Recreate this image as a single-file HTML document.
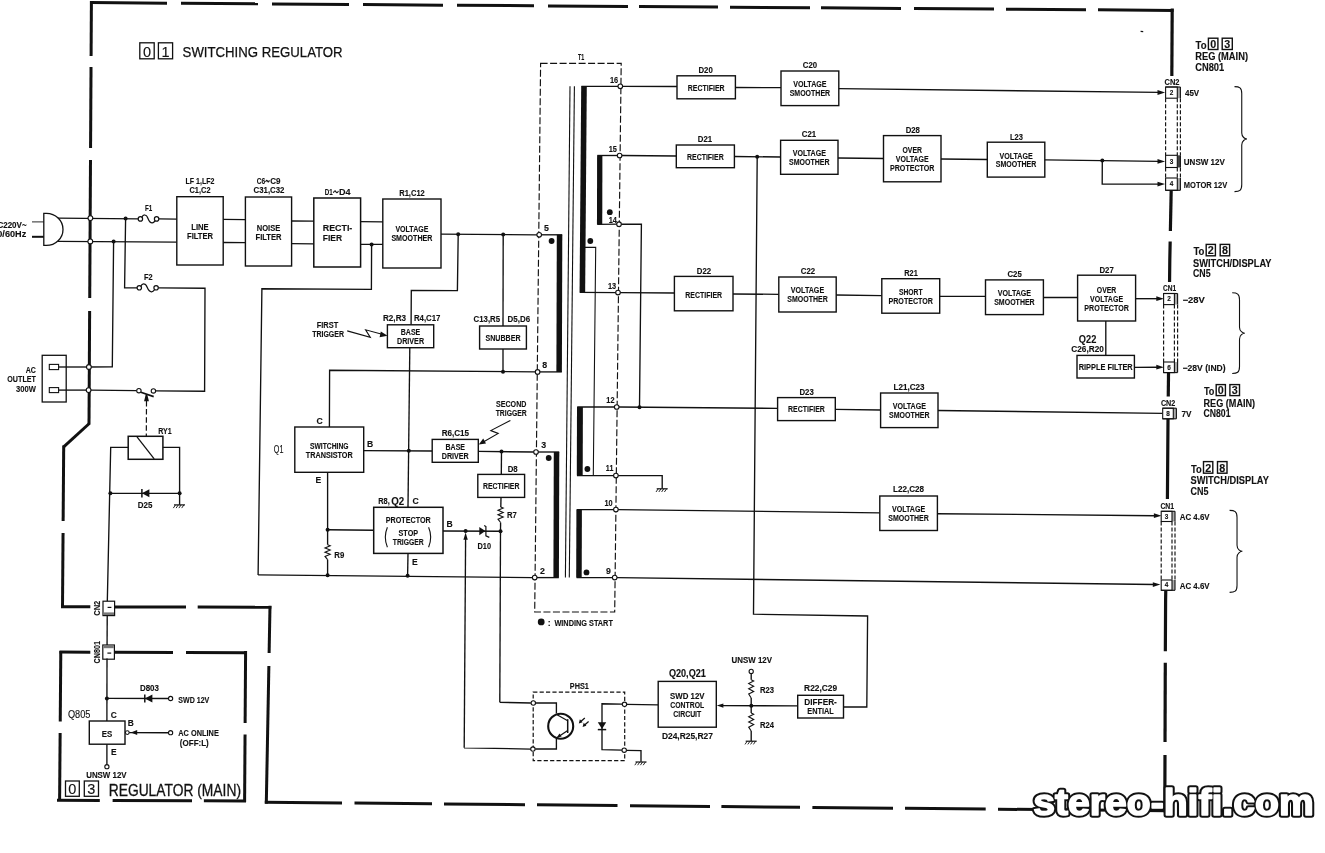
<!DOCTYPE html>
<html><head><meta charset="utf-8"><style>
html,body{margin:0;padding:0;background:#fff;}
svg{display:block;filter:grayscale(1);}
text{font-family:"Liberation Sans",sans-serif;fill:#111;stroke:#111;stroke-width:0.12px;}
</style></head><body>
<svg width="1325" height="853" viewBox="0 0 1325 853">
<rect x="0" y="0" width="1325" height="853" fill="#fff"/>
<line x1="90.5" y1="2.59" x2="167" y2="3.14" stroke="#111" stroke-width="3.0" stroke-linecap="butt"/>
<line x1="181" y1="3.24" x2="258" y2="3.8" stroke="#111" stroke-width="3.0" stroke-linecap="butt"/>
<line x1="272" y1="3.9" x2="349" y2="4.46" stroke="#111" stroke-width="3.0" stroke-linecap="butt"/>
<line x1="363" y1="4.56" x2="443" y2="5.13" stroke="#111" stroke-width="3.0" stroke-linecap="butt"/>
<line x1="457" y1="5.24" x2="534" y2="5.79" stroke="#111" stroke-width="3.0" stroke-linecap="butt"/>
<line x1="548" y1="5.89" x2="628" y2="6.47" stroke="#111" stroke-width="3.0" stroke-linecap="butt"/>
<line x1="639" y1="6.55" x2="718" y2="7.12" stroke="#111" stroke-width="3.0" stroke-linecap="butt"/>
<line x1="730" y1="7.21" x2="810" y2="7.79" stroke="#111" stroke-width="3.0" stroke-linecap="butt"/>
<line x1="821" y1="7.87" x2="901" y2="8.44" stroke="#111" stroke-width="3.0" stroke-linecap="butt"/>
<line x1="914" y1="8.54" x2="994" y2="9.11" stroke="#111" stroke-width="3.0" stroke-linecap="butt"/>
<line x1="1006" y1="9.2" x2="1086" y2="9.78" stroke="#111" stroke-width="3.0" stroke-linecap="butt"/>
<line x1="1098" y1="9.87" x2="1173.5" y2="10.41" stroke="#111" stroke-width="3.0" stroke-linecap="butt"/>
<polyline points="1172.2,8.5 1171.83,76" fill="none" stroke="#111" stroke-width="3.2" stroke-linecap="butt"/>
<polyline points="1171.2,190 1170.38,231" fill="none" stroke="#111" stroke-width="3.2" stroke-linecap="butt"/>
<polyline points="1170.17,241.5 1169.8,260 1169.55,282" fill="none" stroke="#111" stroke-width="3.2" stroke-linecap="butt"/>
<polyline points="1168.53,373 1168.26,396.5" fill="none" stroke="#111" stroke-width="3.2" stroke-linecap="butt"/>
<polyline points="1168.01,419 1168.0,420 1167.41,499" fill="none" stroke="#111" stroke-width="3.2" stroke-linecap="butt"/>
<polyline points="1165.76,591 1165.6,600 1165.34,651.3" fill="none" stroke="#111" stroke-width="3.2" stroke-linecap="butt"/>
<polyline points="1165.29,662.7 1165.03,742" fill="none" stroke="#111" stroke-width="3.2" stroke-linecap="butt"/>
<polyline points="1164.99,755 1164.8,812 1164.8,812.3" fill="none" stroke="#111" stroke-width="3.2" stroke-linecap="butt"/>
<line x1="264.8" y1="802.19" x2="342" y2="802.93" stroke="#111" stroke-width="3.0" stroke-linecap="butt"/>
<line x1="354.5" y1="803.05" x2="432" y2="803.79" stroke="#111" stroke-width="3.0" stroke-linecap="butt"/>
<line x1="444" y1="803.9" x2="525" y2="804.68" stroke="#111" stroke-width="3.0" stroke-linecap="butt"/>
<line x1="537" y1="804.79" x2="617.5" y2="805.56" stroke="#111" stroke-width="3.0" stroke-linecap="butt"/>
<line x1="630" y1="805.68" x2="710" y2="806.45" stroke="#111" stroke-width="3.0" stroke-linecap="butt"/>
<line x1="721.4" y1="806.56" x2="800" y2="807.31" stroke="#111" stroke-width="3.0" stroke-linecap="butt"/>
<line x1="812.4" y1="807.43" x2="893" y2="808.2" stroke="#111" stroke-width="3.0" stroke-linecap="butt"/>
<line x1="905" y1="808.31" x2="985.7" y2="809.08" stroke="#111" stroke-width="3.0" stroke-linecap="butt"/>
<line x1="998" y1="809.2" x2="1166.5" y2="810.81" stroke="#111" stroke-width="3.0" stroke-linecap="butt"/>
<line x1="91.4" y1="1" x2="91.09" y2="56" stroke="#111" stroke-width="3.0" stroke-linecap="butt"/>
<line x1="91.03" y1="67" x2="90.57" y2="148" stroke="#111" stroke-width="3.0" stroke-linecap="butt"/>
<line x1="90.5" y1="160" x2="89.72" y2="298" stroke="#111" stroke-width="3.0" stroke-linecap="butt"/>
<line x1="89.64" y1="311" x2="89.0" y2="424.5" stroke="#111" stroke-width="3.0" stroke-linecap="butt"/>
<line x1="89.3" y1="423.5" x2="63.7" y2="446.8" stroke="#111" stroke-width="3.0" />
<line x1="63.7" y1="445.5" x2="63.14" y2="521" stroke="#111" stroke-width="3.0" stroke-linecap="butt"/>
<line x1="63.05" y1="533" x2="62.5" y2="608" stroke="#111" stroke-width="3.0" stroke-linecap="butt"/>
<line x1="61" y1="606.8" x2="90.3" y2="606.86" stroke="#111" stroke-width="3.0" stroke-linecap="butt"/>
<line x1="114.6" y1="606.9" x2="186" y2="607.04" stroke="#111" stroke-width="3.0" stroke-linecap="butt"/>
<line x1="197.7" y1="607.06" x2="271.3" y2="607.2" stroke="#111" stroke-width="3.0" stroke-linecap="butt"/>
<line x1="270.0" y1="605.7" x2="269.12" y2="653" stroke="#111" stroke-width="3.0" stroke-linecap="butt"/>
<line x1="268.87" y1="666" x2="266.3" y2="803.6" stroke="#111" stroke-width="3.0" stroke-linecap="butt"/>
<line x1="59.5" y1="652.0" x2="90.3" y2="652.13" stroke="#111" stroke-width="3.0" stroke-linecap="butt"/>
<line x1="114.6" y1="652.24" x2="173" y2="652.48" stroke="#111" stroke-width="3.0" stroke-linecap="butt"/>
<line x1="186" y1="652.54" x2="247" y2="652.8" stroke="#111" stroke-width="3.0" stroke-linecap="butt"/>
<line x1="245.6" y1="651" x2="245.12" y2="723" stroke="#111" stroke-width="3.0" stroke-linecap="butt"/>
<line x1="245.05" y1="734.4" x2="244.6" y2="802" stroke="#111" stroke-width="3.0" stroke-linecap="butt"/>
<line x1="57" y1="800.3" x2="99.8" y2="800.46" stroke="#111" stroke-width="3.0" stroke-linecap="butt"/>
<line x1="112.6" y1="800.51" x2="192" y2="800.8" stroke="#111" stroke-width="3.0" stroke-linecap="butt"/>
<line x1="203.9" y1="800.84" x2="246" y2="801.0" stroke="#111" stroke-width="3.0" stroke-linecap="butt"/>
<line x1="60.8" y1="651" x2="60.24" y2="721.5" stroke="#111" stroke-width="3.0" stroke-linecap="butt"/>
<line x1="60.14" y1="733" x2="59.6" y2="801" stroke="#111" stroke-width="3.0" stroke-linecap="butt"/>
<rect x="139.8" y="42.8" width="14.4" height="16.0" fill="none" stroke="#111" stroke-width="1.3" />
<text x="147.0" y="56.6" font-size="14.5" font-weight="normal" text-anchor="middle" >0</text>
<rect x="158.4" y="42.8" width="14.2" height="16.0" fill="none" stroke="#111" stroke-width="1.3" />
<text x="165.5" y="56.6" font-size="14.5" font-weight="normal" text-anchor="middle" >1</text>
<text x="182.6" y="57.3" font-size="14" font-weight="normal" text-anchor="start" textLength="160" lengthAdjust="spacingAndGlyphs" style="stroke:#111;stroke-width:0.25">SWITCHING REGULATOR</text>
<rect x="65.5" y="781" width="13.8" height="15.3" fill="none" stroke="#111" stroke-width="1.3" />
<text x="72.4" y="794.1" font-size="14.5" font-weight="normal" text-anchor="middle" >0</text>
<rect x="84.3" y="781" width="14.2" height="15.3" fill="none" stroke="#111" stroke-width="1.3" />
<text x="91.4" y="794.1" font-size="14.5" font-weight="normal" text-anchor="middle" >3</text>
<text x="108.7" y="795.5" font-size="16.2" font-weight="normal" text-anchor="start" textLength="132.3" lengthAdjust="spacingAndGlyphs" style="stroke:#111;stroke-width:0.3">REGULATOR (MAIN)</text>
<line x1="32" y1="221.9" x2="44" y2="221.9" stroke="#111" stroke-width="0.9" />
<line x1="32" y1="236.8" x2="44" y2="236.8" stroke="#111" stroke-width="2.0" />
<path d="M43.8,213.4 L46.4,213.4 A16.6,16 0 0 1 46.4,245.4 L43.8,245.4 Z" fill="#fff" stroke="#111" stroke-width="1.3"/>
<text x="26.6" y="227.6" font-size="9" font-weight="bold" text-anchor="end" textLength="35" lengthAdjust="spacingAndGlyphs" >AC220V~</text>
<text x="26.2" y="237.2" font-size="9" font-weight="bold" text-anchor="end" textLength="34" lengthAdjust="spacingAndGlyphs" >50/60Hz</text>
<line x1="57.8" y1="218.1" x2="138.2" y2="218.9" stroke="#111" stroke-width="1.35" />
<line x1="57.8" y1="241.4" x2="176.8" y2="242.2" stroke="#111" stroke-width="1.35" />
<line x1="158.8" y1="218.9" x2="176.8" y2="219.2" stroke="#111" stroke-width="1.35" />
<circle cx="140.4" cy="218.9" r="2.2" fill="#fff" stroke="#111" stroke-width="1.2"/>
<circle cx="156.6" cy="218.9" r="2.2" fill="#fff" stroke="#111" stroke-width="1.2"/>
<path d="M141.8,217.3 C142.8,215.3 144.0,214.9 144.8,215.0 C146.6,215.1 147.4,216.9 148.1,218.7 C149.0,220.9 150.5,223.1 152.3,222.9 C153.5,222.8 154.3,221.9 155.0,220.9" fill="none" stroke="#111" stroke-width="1.25"/>
<text x="148.5" y="210.8" font-size="8.6" font-weight="bold" text-anchor="middle" textLength="7.2" lengthAdjust="spacingAndGlyphs" >F1</text>
<circle cx="125.6" cy="218.4" r="2.0" fill="#111"/>
<circle cx="113.6" cy="241.6" r="2.0" fill="#111"/>
<polyline points="125.6,218.4 124.6,287.8 137,287.8" fill="none" stroke="#111" stroke-width="1.35" stroke-linejoin="miter" />
<circle cx="139.3" cy="287.8" r="2.2" fill="#fff" stroke="#111" stroke-width="1.2"/>
<circle cx="156.1" cy="287.8" r="2.2" fill="#fff" stroke="#111" stroke-width="1.2"/>
<path d="M140.75,286.2 C141.79,284.2 143.03,283.8 143.86,283.9 C145.73,284.0 146.56,285.8 147.29,287.6 C148.22,289.8 149.77,292.0 151.64,291.8 C152.89,291.7 153.71,290.8 154.44,289.8" fill="none" stroke="#111" stroke-width="1.25"/>
<text x="148.2" y="280.3" font-size="8.6" font-weight="bold" text-anchor="middle" textLength="8.6" lengthAdjust="spacingAndGlyphs" >F2</text>
<polyline points="158.4,287.9 205,288.2 204.6,391.2 155.7,390.9" fill="none" stroke="#111" stroke-width="1.35" stroke-linejoin="miter" />
<polyline points="113.6,241.6 112.3,366.9 89,367" fill="none" stroke="#111" stroke-width="1.35" stroke-linejoin="miter" />
<circle cx="90.4" cy="218.1" r="2.4" fill="#fff" stroke="#111" stroke-width="1.1"/>
<circle cx="90.3" cy="241.4" r="2.4" fill="#fff" stroke="#111" stroke-width="1.1"/>
<rect x="42.2" y="355.3" width="24.0" height="46.7" fill="#fff" stroke="#111" stroke-width="1.3" />
<rect x="49.3" y="364.4" width="9.3" height="5.2" fill="#fff" stroke="#111" stroke-width="1.1" />
<rect x="49.3" y="387.6" width="9.3" height="5.0" fill="#fff" stroke="#111" stroke-width="1.1" />
<line x1="58.6" y1="367" x2="89" y2="367" stroke="#111" stroke-width="1.35" />
<line x1="58.6" y1="390.1" x2="89" y2="390.1" stroke="#111" stroke-width="1.35" />
<circle cx="88.9" cy="367" r="2.4" fill="#fff" stroke="#111" stroke-width="1.1"/>
<circle cx="88.6" cy="390.1" r="2.4" fill="#fff" stroke="#111" stroke-width="1.1"/>
<text x="35.9" y="373" font-size="9.6" font-weight="bold" text-anchor="end" textLength="10.2" lengthAdjust="spacingAndGlyphs" >AC</text>
<text x="35.9" y="382" font-size="9.6" font-weight="bold" text-anchor="end" textLength="28.6" lengthAdjust="spacingAndGlyphs" >OUTLET</text>
<text x="35.9" y="391.6" font-size="9.6" font-weight="bold" text-anchor="end" textLength="19.8" lengthAdjust="spacingAndGlyphs" >300W</text>
<line x1="91" y1="390.2" x2="136.6" y2="390.7" stroke="#111" stroke-width="1.35" />
<circle cx="138.9" cy="390.7" r="2.2" fill="#fff" stroke="#111" stroke-width="1.1"/>
<circle cx="153.4" cy="390.9" r="2.2" fill="#fff" stroke="#111" stroke-width="1.1"/>
<line x1="140.9" y1="392.2" x2="153.7" y2="396.6" stroke="#111" stroke-width="1.7" />
<path d="M145.7,394.4 L147.3,394.4 L148.9,401.2 L144.1,401.2 Z" fill="#111"/>
<line x1="146.5" y1="401" x2="146.3" y2="436" stroke="#111" stroke-width="1.2" stroke-dasharray="5.5 2.6"/>
<rect x="128.2" y="436.3" width="34.7" height="23.0" fill="#fff" stroke="#111" stroke-width="1.5" />
<line x1="137" y1="436.8" x2="154.2" y2="458.8" stroke="#111" stroke-width="1.3" />
<text x="165" y="434.4" font-size="9" font-weight="bold" text-anchor="middle" textLength="13.5" lengthAdjust="spacingAndGlyphs" >RY1</text>
<polyline points="128.2,447.3 110.7,447.3 107.3,601.5" fill="none" stroke="#111" stroke-width="1.35" stroke-linejoin="miter" />
<polyline points="162.9,447.3 179.6,447.3 179.6,504.8" fill="none" stroke="#111" stroke-width="1.35" stroke-linejoin="miter" />
<circle cx="110.4" cy="493.3" r="2.0" fill="#111"/>
<circle cx="179.6" cy="493.3" r="2.0" fill="#111"/>
<line x1="110.4" y1="493.3" x2="179.6" y2="493.3" stroke="#111" stroke-width="1.35" />
<path d="M141.9,493.3 L149.4,489.3 L149.4,497.3 Z" fill="#111"/>
<line x1="141.9" y1="489.1" x2="141.9" y2="497.5" stroke="#111" stroke-width="1.5" />
<text x="145.1" y="508.3" font-size="9" font-weight="bold" text-anchor="middle" textLength="14.6" lengthAdjust="spacingAndGlyphs" >D25</text>
<line x1="174.0" y1="504.9" x2="185.0" y2="504.9" stroke="#111" stroke-width="1.2" />
<line x1="175.5" y1="504.9" x2="173.3" y2="508.09999999999997" stroke="#111" stroke-width="0.9" />
<line x1="178.3" y1="504.9" x2="176.10000000000002" y2="508.09999999999997" stroke="#111" stroke-width="0.9" />
<line x1="181.1" y1="504.9" x2="178.9" y2="508.09999999999997" stroke="#111" stroke-width="0.9" />
<line x1="183.9" y1="504.9" x2="181.70000000000002" y2="508.09999999999997" stroke="#111" stroke-width="0.9" />
<rect x="176.8" y="196.7" width="46.4" height="68.3" fill="#fff" stroke="#111" stroke-width="1.4" />
<text x="200.0" y="230.0" font-size="9" font-weight="bold" text-anchor="middle" textLength="17.5" lengthAdjust="spacingAndGlyphs" >LINE</text>
<text x="200.0" y="239.2" font-size="9" font-weight="bold" text-anchor="middle" textLength="26" lengthAdjust="spacingAndGlyphs" >FILTER</text>
<rect x="245.4" y="197" width="46.2" height="69" fill="#fff" stroke="#111" stroke-width="1.4" />
<text x="268.5" y="230.7" font-size="9" font-weight="bold" text-anchor="middle" textLength="23.5" lengthAdjust="spacingAndGlyphs" >NOISE</text>
<text x="268.5" y="239.8" font-size="9" font-weight="bold" text-anchor="middle" textLength="26" lengthAdjust="spacingAndGlyphs" >FILTER</text>
<rect x="313.8" y="198" width="46.8" height="69" fill="#fff" stroke="#111" stroke-width="1.5" />
<text x="322.8" y="230.7" font-size="9" font-weight="bold" text-anchor="start" textLength="29.5" lengthAdjust="spacingAndGlyphs" >RECTI-</text>
<text x="322.8" y="240.6" font-size="9" font-weight="bold" text-anchor="start" textLength="19.2" lengthAdjust="spacingAndGlyphs" >FIER</text>
<rect x="382.8" y="199" width="58.2" height="69" fill="#fff" stroke="#111" stroke-width="1.4" />
<text x="411.9" y="232.3" font-size="9" font-weight="bold" text-anchor="middle" textLength="33" lengthAdjust="spacingAndGlyphs" >VOLTAGE</text>
<text x="411.9" y="241.3" font-size="9" font-weight="bold" text-anchor="middle" textLength="41" lengthAdjust="spacingAndGlyphs" >SMOOTHER</text>
<text x="200" y="184.3" font-size="9" font-weight="bold" text-anchor="middle" textLength="29" lengthAdjust="spacingAndGlyphs" >LF 1,LF2</text>
<text x="200" y="193" font-size="9" font-weight="bold" text-anchor="middle" textLength="21" lengthAdjust="spacingAndGlyphs" >C1,C2</text>
<text x="256.8" y="184.3" font-size="9" font-weight="bold" text-anchor="start" textLength="8.4" lengthAdjust="spacingAndGlyphs" >C6</text>
<path d="M265.6,182.0 C266.40000000000003,179.79999999999998 266.9,179.79999999999998 267.5,181.1 S268.59999999999997,182.4 269.4,180.2" fill="none" stroke="#111" stroke-width="1.1"/>
<text x="270.2" y="184.3" font-size="9" font-weight="bold" text-anchor="start" textLength="10.3" lengthAdjust="spacingAndGlyphs" >C9</text>
<text x="269" y="193.3" font-size="9" font-weight="bold" text-anchor="middle" textLength="31" lengthAdjust="spacingAndGlyphs" >C31,C32</text>
<text x="324.8" y="195" font-size="9" font-weight="bold" text-anchor="start" textLength="8" lengthAdjust="spacingAndGlyphs" >D1</text>
<path d="M333.4,192.70000000000002 C334.2,190.5 335.29999999999995,190.5 335.9,191.8 S337.59999999999997,193.10000000000002 338.4,190.9" fill="none" stroke="#111" stroke-width="1.1"/>
<text x="339" y="195" font-size="9" font-weight="bold" text-anchor="start" textLength="11.6" lengthAdjust="spacingAndGlyphs" >D4</text>
<text x="412" y="195.5" font-size="9" font-weight="bold" text-anchor="middle" textLength="25.5" lengthAdjust="spacingAndGlyphs" >R1,C12</text>
<line x1="223.2" y1="219.4" x2="245.4" y2="219.6" stroke="#111" stroke-width="1.35" />
<line x1="223.2" y1="242.5" x2="245.4" y2="242.7" stroke="#111" stroke-width="1.35" />
<line x1="291.6" y1="221" x2="313.8" y2="221.2" stroke="#111" stroke-width="1.35" />
<line x1="291.6" y1="243.6" x2="313.8" y2="243.8" stroke="#111" stroke-width="1.35" />
<line x1="360.6" y1="221.6" x2="382.8" y2="221.8" stroke="#111" stroke-width="1.35" />
<line x1="360.6" y1="244.3" x2="382.8" y2="244.4" stroke="#111" stroke-width="1.35" />
<circle cx="371.6" cy="244.4" r="2.0" fill="#111"/>
<line x1="441" y1="234.1" x2="537" y2="234.8" stroke="#111" stroke-width="1.35" />
<circle cx="458.2" cy="234.2" r="2.0" fill="#111"/>
<circle cx="503.2" cy="234.5" r="2.0" fill="#111"/>
<polyline points="371.6,244.4 371.4,289.4 261.9,288.8 258.1,575" fill="none" stroke="#111" stroke-width="1.35" stroke-linejoin="miter" />
<polyline points="458.2,234.2 457.4,290.6 411.3,290.4 411.1,324.8" fill="none" stroke="#111" stroke-width="1.35" stroke-linejoin="miter" />
<rect x="387.4" y="324.8" width="46.3" height="22.9" fill="#fff" stroke="#111" stroke-width="1.4" />
<text x="410.55" y="335.3" font-size="9" font-weight="bold" text-anchor="middle" textLength="19.5" lengthAdjust="spacingAndGlyphs" >BASE</text>
<text x="410.55" y="344.3" font-size="9" font-weight="bold" text-anchor="middle" textLength="27" lengthAdjust="spacingAndGlyphs" >DRIVER</text>
<text x="394.5" y="321.2" font-size="8.6" font-weight="bold" text-anchor="middle" textLength="23" lengthAdjust="spacingAndGlyphs" >R2,R3</text>
<text x="427.2" y="321.2" font-size="8.6" font-weight="bold" text-anchor="middle" textLength="26.5" lengthAdjust="spacingAndGlyphs" >R4,C17</text>
<text x="327.5" y="327.6" font-size="8.6" font-weight="bold" text-anchor="middle" textLength="21.5" lengthAdjust="spacingAndGlyphs" >FIRST</text>
<text x="328.1" y="336.7" font-size="8.6" font-weight="bold" text-anchor="middle" textLength="31.8" lengthAdjust="spacingAndGlyphs" >TRIGGER</text>
<polyline points="347.2,330.9 370.3,337.4 365.6,329.8 382,334.2" fill="none" stroke="#111" stroke-width="1.1" stroke-linejoin="miter" />
<path d="M387.6,335.8 L380.8,331.6 L379.6,337.2 Z" fill="#111"/>
<line x1="409.8" y1="347.7" x2="408" y2="507.3" stroke="#111" stroke-width="1.35" />
<circle cx="408.8" cy="450.8" r="2.0" fill="#111"/>
<rect x="479.6" y="326" width="46.8" height="23" fill="#fff" stroke="#111" stroke-width="1.4" />
<text x="503.0" y="341.0" font-size="9" font-weight="bold" text-anchor="middle" textLength="35" lengthAdjust="spacingAndGlyphs" >SNUBBER</text>
<text x="486.8" y="321.6" font-size="8.6" font-weight="bold" text-anchor="middle" textLength="26.5" lengthAdjust="spacingAndGlyphs" >C13,R5</text>
<text x="518.8" y="321.6" font-size="8.6" font-weight="bold" text-anchor="middle" textLength="22.5" lengthAdjust="spacingAndGlyphs" >D5,D6</text>
<line x1="503.2" y1="234.5" x2="503" y2="326" stroke="#111" stroke-width="1.35" />
<line x1="503" y1="349" x2="503" y2="371.7" stroke="#111" stroke-width="1.35" />
<circle cx="503" cy="371.7" r="2.0" fill="#111"/>
<polyline points="329.4,427 329.6,370.2 535.3,371.9" fill="none" stroke="#111" stroke-width="1.35" stroke-linejoin="miter" />
<rect x="294.8" y="427" width="68.9" height="45.3" fill="#fff" stroke="#111" stroke-width="1.4" />
<text x="329.25" y="448.9" font-size="9" font-weight="bold" text-anchor="middle" textLength="38.5" lengthAdjust="spacingAndGlyphs" >SWITCHING</text>
<text x="329.25" y="457.8" font-size="9" font-weight="bold" text-anchor="middle" textLength="47" lengthAdjust="spacingAndGlyphs" >TRANSISTOR</text>
<text x="319.7" y="424" font-size="8.6" font-weight="bold" text-anchor="middle" >C</text>
<text x="278.6" y="452.8" font-size="10.4" font-weight="normal" text-anchor="middle" textLength="9.6" lengthAdjust="spacingAndGlyphs" >Q1</text>
<text x="370.2" y="446.9" font-size="8.6" font-weight="bold" text-anchor="middle" >B</text>
<text x="318.4" y="483.2" font-size="8.6" font-weight="bold" text-anchor="middle" >E</text>
<line x1="363.7" y1="450.6" x2="432.2" y2="451" stroke="#111" stroke-width="1.35" />
<rect x="432.2" y="439.4" width="46.1" height="22.9" fill="#fff" stroke="#111" stroke-width="1.4" />
<text x="455.25" y="449.9" font-size="9" font-weight="bold" text-anchor="middle" textLength="19.5" lengthAdjust="spacingAndGlyphs" >BASE</text>
<text x="455.25" y="459.2" font-size="9" font-weight="bold" text-anchor="middle" textLength="27" lengthAdjust="spacingAndGlyphs" >DRIVER</text>
<text x="455.4" y="435.7" font-size="8.6" font-weight="bold" text-anchor="middle" textLength="27.4" lengthAdjust="spacingAndGlyphs" >R6,C15</text>
<text x="511.2" y="406.8" font-size="8.6" font-weight="bold" text-anchor="middle" textLength="30.4" lengthAdjust="spacingAndGlyphs" >SECOND</text>
<text x="511.2" y="415.8" font-size="8.6" font-weight="bold" text-anchor="middle" textLength="31" lengthAdjust="spacingAndGlyphs" >TRIGGER</text>
<polyline points="510.4,420.4 490.8,430.6 498.2,433.4 482,442.8" fill="none" stroke="#111" stroke-width="1.1" stroke-linejoin="miter" />
<path d="M478.8,444.6 L483.2,438.6 L486,443.6 Z" fill="#111"/>
<line x1="478.3" y1="451.4" x2="533.8" y2="452" stroke="#111" stroke-width="1.35" />
<circle cx="501.5" cy="451.6" r="2.0" fill="#111"/>
<line x1="501.5" y1="451.6" x2="501.3" y2="474.4" stroke="#111" stroke-width="1.35" />
<rect x="477.8" y="474.4" width="46.8" height="23.0" fill="#fff" stroke="#111" stroke-width="1.4" />
<text x="501.2" y="489.4" font-size="9" font-weight="bold" text-anchor="middle" textLength="36.5" lengthAdjust="spacingAndGlyphs" >RECTIFIER</text>
<text x="512.7" y="472.3" font-size="8.6" font-weight="bold" text-anchor="middle" textLength="10" lengthAdjust="spacingAndGlyphs" >D8</text>
<line x1="501" y1="497.4" x2="500.8" y2="507" stroke="#111" stroke-width="1.35" />
<polyline points="500.6,507 503.2,508.11 498.0,510.32 503.2,512.54 498.0,514.75 503.2,516.96 498.0,519.18 500.6,522.5" fill="none" stroke="#111" stroke-width="1.1" stroke-linejoin="miter" />
<text x="511.8" y="517.6" font-size="8.6" font-weight="bold" text-anchor="middle" textLength="9.8" lengthAdjust="spacingAndGlyphs" >R7</text>
<line x1="500.6" y1="522.5" x2="500.5" y2="531.2" stroke="#111" stroke-width="1.35" />
<circle cx="500.5" cy="531.2" r="2.0" fill="#111"/>
<line x1="500.5" y1="531.2" x2="499.8" y2="702.3" stroke="#111" stroke-width="1.35" />
<line x1="327.6" y1="472.3" x2="327.6" y2="544.7" stroke="#111" stroke-width="1.35" />
<polyline points="327.6,544.7 330.2,545.76 325.0,547.89 330.2,550.02 325.0,552.15 330.2,554.28 325.0,556.41 327.6,559.6" fill="none" stroke="#111" stroke-width="1.1" stroke-linejoin="miter" />
<line x1="327.6" y1="559.6" x2="327.6" y2="575.3" stroke="#111" stroke-width="1.35" />
<circle cx="327.6" cy="529.7" r="2.0" fill="#111"/>
<circle cx="327.6" cy="575.3" r="2.0" fill="#111"/>
<text x="339.3" y="558.4" font-size="8.6" font-weight="bold" text-anchor="middle" textLength="10" lengthAdjust="spacingAndGlyphs" >R9</text>
<line x1="327.6" y1="529.7" x2="373.7" y2="530.2" stroke="#111" stroke-width="1.35" />
<rect x="373.7" y="507.3" width="69.3" height="46.1" fill="#fff" stroke="#111" stroke-width="1.5" />
<text x="408.3" y="522.8" font-size="9" font-weight="bold" text-anchor="middle" textLength="45" lengthAdjust="spacingAndGlyphs" >PROTECTOR</text>
<text x="408.3" y="536" font-size="9" font-weight="bold" text-anchor="middle" textLength="19.5" lengthAdjust="spacingAndGlyphs" >STOP</text>
<text x="408.3" y="545.2" font-size="9" font-weight="bold" text-anchor="middle" textLength="31" lengthAdjust="spacingAndGlyphs" >TRIGGER</text>
<path d="M387.4,527.3 Q383.2,537.2 387.4,547.2" fill="none" stroke="#111" stroke-width="1.1"/>
<path d="M428.6,527.3 Q432.8,537.2 428.6,547.2" fill="none" stroke="#111" stroke-width="1.1"/>
<text x="378.2" y="504.3" font-size="8.6" font-weight="bold" text-anchor="start" textLength="11.5" lengthAdjust="spacingAndGlyphs" >R8,</text>
<text x="391.2" y="504.6" font-size="11" font-weight="bold" text-anchor="start" textLength="13" lengthAdjust="spacingAndGlyphs" >Q2</text>
<text x="415.6" y="504.2" font-size="8.6" font-weight="bold" text-anchor="middle" >C</text>
<text x="414.8" y="564.6" font-size="8.6" font-weight="bold" text-anchor="middle" >E</text>
<text x="449.6" y="527.1" font-size="8.6" font-weight="bold" text-anchor="middle" >B</text>
<line x1="408" y1="553.4" x2="407.6" y2="575.8" stroke="#111" stroke-width="1.35" />
<circle cx="407.6" cy="575.8" r="2.0" fill="#111"/>
<line x1="258.1" y1="574.8" x2="532.5" y2="577.6" stroke="#111" stroke-width="1.35" />
<line x1="443" y1="531" x2="500.5" y2="531.2" stroke="#111" stroke-width="1.35" />
<circle cx="465.6" cy="531" r="2.0" fill="#111"/>
<line x1="465.6" y1="539" x2="464.2" y2="747.8" stroke="#111" stroke-width="1.35" />
<path d="M465.6,532.4 L463.40000000000003,539.8 L467.8,539.8 Z" fill="#111"/>
<path d="M485.4,531.1 L479.3,527.1 L479.3,535.3 Z" fill="#111"/>
<path d="M484.2,525.4 L485.9,526.6 L485.9,535.8 L489.3,537.4" fill="none" stroke="#111" stroke-width="1.2"/>
<text x="484.3" y="548.7" font-size="8.6" font-weight="bold" text-anchor="middle" textLength="13.5" lengthAdjust="spacingAndGlyphs" >D10</text>
<polygon points="540.6,63.4 621.2,63.4 614.7,612 534.7,612" fill="none" stroke="#111" stroke-width="1.15" stroke-dasharray="7 2.5"/>
<text x="581.2" y="59.8" font-size="8.8" font-weight="bold" text-anchor="middle" textLength="6.2" lengthAdjust="spacingAndGlyphs" >T1</text>
<line x1="570" y1="86.3" x2="565.4" y2="577.6" stroke="#111" stroke-width="1.1" />
<line x1="574.4" y1="86.3" x2="569.3" y2="577.6" stroke="#111" stroke-width="1.1" />
<line x1="539.2" y1="234.8" x2="562.2" y2="234.8" stroke="#111" stroke-width="1.35" />
<path d="M556.8,234.8 L562.3,234.8 L561.89,371.9 L556.39,371.9 Z" fill="#111"/>
<line x1="561.8" y1="371.9" x2="537.6" y2="371.9" stroke="#111" stroke-width="1.35" />
<circle cx="551.6" cy="241" r="2.9" fill="#111"/>
<line x1="536" y1="452" x2="559.2" y2="452" stroke="#111" stroke-width="1.35" />
<path d="M553.8,452 L559.3,452 L558.92,577.6 L553.42,577.6 Z" fill="#111"/>
<line x1="558.8" y1="577.6" x2="534.7" y2="577.6" stroke="#111" stroke-width="1.35" />
<circle cx="548.7" cy="458" r="2.9" fill="#111"/>
<line x1="581.4" y1="86.3" x2="620.3" y2="86.3" stroke="#111" stroke-width="1.35" />
<path d="M581.2,86.3 L586.8,86.3 L585.15,292.4 L579.55,292.4 Z" fill="#111"/>
<line x1="579.8" y1="292.4" x2="618" y2="292.6" stroke="#111" stroke-width="1.35" />
<circle cx="590.3" cy="241" r="2.9" fill="#111"/>
<polyline points="585,247.4 595.7,247.4 593.3,475.6" fill="none" stroke="#111" stroke-width="1.1" stroke-linejoin="miter" />
<line x1="597.3" y1="155.5" x2="619.6" y2="155.5" stroke="#111" stroke-width="1.35" />
<path d="M597.1,155.5 L602.4,155.5 L602.26,224.6 L596.96,224.6 Z" fill="#111"/>
<line x1="597.3" y1="224.4" x2="619" y2="224.2" stroke="#111" stroke-width="1.35" />
<circle cx="609.8" cy="212.2" r="2.9" fill="#111"/>
<line x1="577.2" y1="407" x2="616.7" y2="407" stroke="#111" stroke-width="1.35" />
<path d="M577,407 L582.9,407 L582.69,475.6 L576.79,475.6 Z" fill="#111"/>
<line x1="577" y1="475.6" x2="615.9" y2="475.6" stroke="#111" stroke-width="1.35" />
<circle cx="587.4" cy="469" r="2.9" fill="#111"/>
<line x1="576.8" y1="509.6" x2="615.9" y2="509.6" stroke="#111" stroke-width="1.35" />
<path d="M576.4,509.6 L581.9,509.6 L581.7,577.6 L576.2,577.6 Z" fill="#111"/>
<line x1="576.6" y1="577.6" x2="614.7" y2="577.6" stroke="#111" stroke-width="1.35" />
<circle cx="586.5" cy="572.4" r="2.9" fill="#111"/>
<circle cx="539.2" cy="234.8" r="2.3" fill="#fff" stroke="#111" stroke-width="1.1"/>
<circle cx="537.6" cy="371.9" r="2.3" fill="#fff" stroke="#111" stroke-width="1.1"/>
<circle cx="536" cy="452" r="2.3" fill="#fff" stroke="#111" stroke-width="1.1"/>
<circle cx="534.7" cy="577.6" r="2.3" fill="#fff" stroke="#111" stroke-width="1.1"/>
<circle cx="620.3" cy="86.3" r="2.3" fill="#fff" stroke="#111" stroke-width="1.1"/>
<circle cx="619.6" cy="155.5" r="2.3" fill="#fff" stroke="#111" stroke-width="1.1"/>
<circle cx="619" cy="224.2" r="2.3" fill="#fff" stroke="#111" stroke-width="1.1"/>
<circle cx="618" cy="292.6" r="2.3" fill="#fff" stroke="#111" stroke-width="1.1"/>
<circle cx="616.7" cy="407" r="2.3" fill="#fff" stroke="#111" stroke-width="1.1"/>
<circle cx="615.9" cy="475.6" r="2.3" fill="#fff" stroke="#111" stroke-width="1.1"/>
<circle cx="615.9" cy="509.6" r="2.3" fill="#fff" stroke="#111" stroke-width="1.1"/>
<circle cx="614.7" cy="577.6" r="2.3" fill="#fff" stroke="#111" stroke-width="1.1"/>
<text x="546.5" y="231" font-size="8.8" font-weight="bold" text-anchor="middle" >5</text>
<text x="544.6" y="368.3" font-size="8.8" font-weight="bold" text-anchor="middle" >8</text>
<text x="543.6" y="448.2" font-size="8.8" font-weight="bold" text-anchor="middle" >3</text>
<text x="542.4" y="574.2" font-size="8.8" font-weight="bold" text-anchor="middle" >2</text>
<text x="614" y="82.8" font-size="8.8" font-weight="bold" text-anchor="middle" textLength="8.2" lengthAdjust="spacingAndGlyphs" >16</text>
<text x="612.8" y="152.2" font-size="8.8" font-weight="bold" text-anchor="middle" textLength="8.2" lengthAdjust="spacingAndGlyphs" >15</text>
<text x="612.8" y="222.6" font-size="8.8" font-weight="bold" text-anchor="middle" textLength="8.2" lengthAdjust="spacingAndGlyphs" >14</text>
<text x="612" y="289.2" font-size="8.8" font-weight="bold" text-anchor="middle" textLength="8.2" lengthAdjust="spacingAndGlyphs" >13</text>
<text x="610.4" y="403.4" font-size="8.8" font-weight="bold" text-anchor="middle" textLength="8.2" lengthAdjust="spacingAndGlyphs" >12</text>
<text x="609.6" y="471.4" font-size="8.8" font-weight="bold" text-anchor="middle" textLength="7.5" lengthAdjust="spacingAndGlyphs" >11</text>
<text x="608.6" y="506" font-size="8.8" font-weight="bold" text-anchor="middle" textLength="8.2" lengthAdjust="spacingAndGlyphs" >10</text>
<text x="608.4" y="574.4" font-size="8.8" font-weight="bold" text-anchor="middle" >9</text>
<circle cx="541.2" cy="621.9" r="3.4" fill="#111"/>
<text x="549.2" y="625.5" font-size="8.8" font-weight="bold" text-anchor="middle" >:</text>
<text x="554.4" y="625.6" font-size="8.8" font-weight="bold" text-anchor="start" textLength="58.5" lengthAdjust="spacingAndGlyphs" >WINDING START</text>
<line x1="622.6" y1="86.3" x2="677" y2="86.5" stroke="#111" stroke-width="1.35" />
<rect x="677" y="75.8" width="58.4" height="23.0" fill="#fff" stroke="#111" stroke-width="1.4" />
<text x="706.2" y="90.5" font-size="9" font-weight="bold" text-anchor="middle" textLength="36.7" lengthAdjust="spacingAndGlyphs" >RECTIFIER</text>
<text x="705.6" y="73.4" font-size="8.8" font-weight="bold" text-anchor="middle" textLength="14.3" lengthAdjust="spacingAndGlyphs" >D20</text>
<line x1="735.4" y1="87.5" x2="781" y2="87.7" stroke="#111" stroke-width="1.35" />
<rect x="781" y="71" width="57.8" height="34.6" fill="#fff" stroke="#111" stroke-width="1.4" />
<text x="809.9" y="87.2" font-size="9" font-weight="bold" text-anchor="middle" textLength="33.3" lengthAdjust="spacingAndGlyphs" >VOLTAGE</text>
<text x="809.9" y="96.0" font-size="9" font-weight="bold" text-anchor="middle" textLength="40.5" lengthAdjust="spacingAndGlyphs" >SMOOTHER</text>
<text x="810" y="68.2" font-size="8.8" font-weight="bold" text-anchor="middle" textLength="14.3" lengthAdjust="spacingAndGlyphs" >C20</text>
<line x1="838.8" y1="88.7" x2="1159" y2="92.4" stroke="#111" stroke-width="1.35" />
<path d="M1165.1,92.5 L1157.5,90.1 L1157.5,94.9 Z" fill="#111"/>
<line x1="621.9" y1="155.5" x2="676.3" y2="156" stroke="#111" stroke-width="1.35" />
<rect x="676.3" y="145" width="58.1" height="22.7" fill="#fff" stroke="#111" stroke-width="1.4" />
<text x="705.35" y="159.8" font-size="9" font-weight="bold" text-anchor="middle" textLength="36.7" lengthAdjust="spacingAndGlyphs" >RECTIFIER</text>
<text x="705" y="142.2" font-size="8.8" font-weight="bold" text-anchor="middle" textLength="14.3" lengthAdjust="spacingAndGlyphs" >D21</text>
<line x1="734.4" y1="156.5" x2="780.6" y2="157" stroke="#111" stroke-width="1.35" />
<circle cx="757.2" cy="156.7" r="2.0" fill="#111"/>
<rect x="780.6" y="140.3" width="57.4" height="34.0" fill="#fff" stroke="#111" stroke-width="1.4" />
<text x="809.3" y="156.4" font-size="9" font-weight="bold" text-anchor="middle" textLength="33.3" lengthAdjust="spacingAndGlyphs" >VOLTAGE</text>
<text x="809.3" y="165.2" font-size="9" font-weight="bold" text-anchor="middle" textLength="40.5" lengthAdjust="spacingAndGlyphs" >SMOOTHER</text>
<text x="809" y="137.3" font-size="8.8" font-weight="bold" text-anchor="middle" textLength="14.3" lengthAdjust="spacingAndGlyphs" >C21</text>
<line x1="838" y1="158" x2="883.5" y2="158.5" stroke="#111" stroke-width="1.35" />
<rect x="883.5" y="135.6" width="57.5" height="46.2" fill="#fff" stroke="#111" stroke-width="1.4" />
<text x="912.25" y="153.2" font-size="9" font-weight="bold" text-anchor="middle" textLength="19.5" lengthAdjust="spacingAndGlyphs" >OVER</text>
<text x="912.25" y="162.15" font-size="9" font-weight="bold" text-anchor="middle" textLength="33" lengthAdjust="spacingAndGlyphs" >VOLTAGE</text>
<text x="912.25" y="171.1" font-size="9" font-weight="bold" text-anchor="middle" textLength="44.5" lengthAdjust="spacingAndGlyphs" >PROTECTOR</text>
<text x="912.8" y="132.8" font-size="8.8" font-weight="bold" text-anchor="middle" textLength="14.3" lengthAdjust="spacingAndGlyphs" >D28</text>
<line x1="941" y1="159" x2="987.3" y2="159.5" stroke="#111" stroke-width="1.35" />
<rect x="987.3" y="142.2" width="57.5" height="34.9" fill="#fff" stroke="#111" stroke-width="1.4" />
<text x="1016.05" y="158.6" font-size="9" font-weight="bold" text-anchor="middle" textLength="33.3" lengthAdjust="spacingAndGlyphs" >VOLTAGE</text>
<text x="1016.05" y="167.4" font-size="9" font-weight="bold" text-anchor="middle" textLength="40.5" lengthAdjust="spacingAndGlyphs" >SMOOTHER</text>
<text x="1016.5" y="139.6" font-size="8.8" font-weight="bold" text-anchor="middle" textLength="13" lengthAdjust="spacingAndGlyphs" >L23</text>
<line x1="1044.8" y1="159.8" x2="1159" y2="161.3" stroke="#111" stroke-width="1.35" />
<path d="M1165.1,161.4 L1157.5,159.0 L1157.5,163.8 Z" fill="#111"/>
<circle cx="1102.3" cy="160.6" r="2.0" fill="#111"/>
<polyline points="1102.3,160.6 1102.2,184 1159,184.1" fill="none" stroke="#111" stroke-width="1.35" stroke-linejoin="miter" />
<path d="M1165.1,184.1 L1157.5,181.7 L1157.5,186.5 Z" fill="#111"/>
<polyline points="621.3,224.2 641.4,224.2 639.5,407.2" fill="none" stroke="#111" stroke-width="1.35" stroke-linejoin="miter" />
<circle cx="639.5" cy="407.2" r="2.0" fill="#111"/>
<line x1="620.3" y1="292.6" x2="674.4" y2="293" stroke="#111" stroke-width="1.35" />
<rect x="674.4" y="276.4" width="58.6" height="34.4" fill="#fff" stroke="#111" stroke-width="1.4" />
<text x="703.7" y="297.8" font-size="9" font-weight="bold" text-anchor="middle" textLength="36.7" lengthAdjust="spacingAndGlyphs" >RECTIFIER</text>
<text x="704" y="273.6" font-size="8.8" font-weight="bold" text-anchor="middle" textLength="14.3" lengthAdjust="spacingAndGlyphs" >D22</text>
<line x1="733" y1="294" x2="778.8" y2="294.3" stroke="#111" stroke-width="1.35" />
<rect x="778.8" y="277" width="57.4" height="35" fill="#fff" stroke="#111" stroke-width="1.4" />
<text x="807.5" y="293.3" font-size="9" font-weight="bold" text-anchor="middle" textLength="33.3" lengthAdjust="spacingAndGlyphs" >VOLTAGE</text>
<text x="807.5" y="302.1" font-size="9" font-weight="bold" text-anchor="middle" textLength="40.5" lengthAdjust="spacingAndGlyphs" >SMOOTHER</text>
<text x="808" y="274.2" font-size="8.8" font-weight="bold" text-anchor="middle" textLength="14.3" lengthAdjust="spacingAndGlyphs" >C22</text>
<line x1="836.2" y1="295" x2="881.8" y2="295.6" stroke="#111" stroke-width="1.35" />
<rect x="881.8" y="278.7" width="57.9" height="34.5" fill="#fff" stroke="#111" stroke-width="1.4" />
<text x="910.75" y="295.0" font-size="9" font-weight="bold" text-anchor="middle" textLength="23.5" lengthAdjust="spacingAndGlyphs" >SHORT</text>
<text x="910.75" y="304.2" font-size="9" font-weight="bold" text-anchor="middle" textLength="44.5" lengthAdjust="spacingAndGlyphs" >PROTECTOR</text>
<text x="911" y="276" font-size="8.8" font-weight="bold" text-anchor="middle" textLength="13.5" lengthAdjust="spacingAndGlyphs" >R21</text>
<line x1="939.7" y1="296.3" x2="985.5" y2="296.3" stroke="#111" stroke-width="1.35" />
<rect x="985.5" y="279.9" width="57.9" height="34.7" fill="#fff" stroke="#111" stroke-width="1.4" />
<text x="1014.45" y="296.3" font-size="9" font-weight="bold" text-anchor="middle" textLength="33.3" lengthAdjust="spacingAndGlyphs" >VOLTAGE</text>
<text x="1014.45" y="305.1" font-size="9" font-weight="bold" text-anchor="middle" textLength="40.5" lengthAdjust="spacingAndGlyphs" >SMOOTHER</text>
<text x="1014.6" y="277.2" font-size="8.8" font-weight="bold" text-anchor="middle" textLength="14.3" lengthAdjust="spacingAndGlyphs" >C25</text>
<line x1="1043.4" y1="297.5" x2="1077.6" y2="297.5" stroke="#111" stroke-width="1.35" />
<rect x="1077.6" y="275.2" width="58.0" height="45.8" fill="#fff" stroke="#111" stroke-width="1.4" />
<text x="1106.6" y="292.9" font-size="9" font-weight="bold" text-anchor="middle" textLength="19.5" lengthAdjust="spacingAndGlyphs" >OVER</text>
<text x="1106.6" y="301.85" font-size="9" font-weight="bold" text-anchor="middle" textLength="33" lengthAdjust="spacingAndGlyphs" >VOLTAGE</text>
<text x="1106.6" y="310.8" font-size="9" font-weight="bold" text-anchor="middle" textLength="44.5" lengthAdjust="spacingAndGlyphs" >PROTECTOR</text>
<text x="1106.6" y="272.8" font-size="8.8" font-weight="bold" text-anchor="middle" textLength="14.3" lengthAdjust="spacingAndGlyphs" >D27</text>
<line x1="1135.6" y1="298.7" x2="1157.5" y2="298.7" stroke="#111" stroke-width="1.35" />
<path d="M1163.9,298.7 L1156.3000000000002,296.3 L1156.3000000000002,301.09999999999997 Z" fill="#111"/>
<line x1="1105.8" y1="321" x2="1105.8" y2="355.4" stroke="#111" stroke-width="1.35" />
<rect x="1077" y="355.4" width="57.4" height="22.6" fill="#fff" stroke="#111" stroke-width="1.4" />
<text x="1105.7" y="370.2" font-size="9" font-weight="bold" text-anchor="middle" textLength="54" lengthAdjust="spacingAndGlyphs" >RIPPLE FILTER</text>
<text x="1087.6" y="342.8" font-size="10.8" font-weight="bold" text-anchor="middle" textLength="17.5" lengthAdjust="spacingAndGlyphs" >Q22</text>
<text x="1087.6" y="352.3" font-size="8.8" font-weight="bold" text-anchor="middle" textLength="32.5" lengthAdjust="spacingAndGlyphs" >C26,R20</text>
<line x1="1134.4" y1="367.3" x2="1157.5" y2="367.2" stroke="#111" stroke-width="1.35" />
<path d="M1163.9,367.2 L1156.3000000000002,364.8 L1156.3000000000002,369.59999999999997 Z" fill="#111"/>
<line x1="619" y1="407" x2="777.6" y2="408.4" stroke="#111" stroke-width="1.35" />
<rect x="777.6" y="397.6" width="57.7" height="23.0" fill="#fff" stroke="#111" stroke-width="1.4" />
<text x="806.45" y="412.2" font-size="9" font-weight="bold" text-anchor="middle" textLength="36.7" lengthAdjust="spacingAndGlyphs" >RECTIFIER</text>
<text x="806.6" y="394.6" font-size="8.8" font-weight="bold" text-anchor="middle" textLength="14.3" lengthAdjust="spacingAndGlyphs" >D23</text>
<line x1="835.3" y1="409.3" x2="880.6" y2="410" stroke="#111" stroke-width="1.35" />
<rect x="880.6" y="393" width="57.4" height="34.6" fill="#fff" stroke="#111" stroke-width="1.4" />
<text x="909.3" y="409.3" font-size="9" font-weight="bold" text-anchor="middle" textLength="33.3" lengthAdjust="spacingAndGlyphs" >VOLTAGE</text>
<text x="909.3" y="418.1" font-size="9" font-weight="bold" text-anchor="middle" textLength="40.5" lengthAdjust="spacingAndGlyphs" >SMOOTHER</text>
<text x="909" y="390.2" font-size="8.8" font-weight="bold" text-anchor="middle" textLength="31" lengthAdjust="spacingAndGlyphs" >L21,C23</text>
<line x1="938" y1="410.5" x2="1162.7" y2="413.4" stroke="#111" stroke-width="1.35" />
<polyline points="618.2,475.6 662.2,475.6 662.2,488.6" fill="none" stroke="#111" stroke-width="1.35" stroke-linejoin="miter" />
<line x1="656.7" y1="488.8" x2="667.7" y2="488.8" stroke="#111" stroke-width="1.2" />
<line x1="658.2" y1="488.8" x2="656.0" y2="492.0" stroke="#111" stroke-width="0.9" />
<line x1="661.0" y1="488.8" x2="658.8" y2="492.0" stroke="#111" stroke-width="0.9" />
<line x1="663.8000000000001" y1="488.8" x2="661.6" y2="492.0" stroke="#111" stroke-width="0.9" />
<line x1="666.6" y1="488.8" x2="664.4" y2="492.0" stroke="#111" stroke-width="0.9" />
<line x1="618.2" y1="509.6" x2="879.8" y2="512.9" stroke="#111" stroke-width="1.35" />
<rect x="879.8" y="496" width="57.6" height="34.5" fill="#fff" stroke="#111" stroke-width="1.4" />
<text x="908.6" y="512.3" font-size="9" font-weight="bold" text-anchor="middle" textLength="33.3" lengthAdjust="spacingAndGlyphs" >VOLTAGE</text>
<text x="908.6" y="521.1" font-size="9" font-weight="bold" text-anchor="middle" textLength="40.5" lengthAdjust="spacingAndGlyphs" >SMOOTHER</text>
<text x="908.6" y="492.4" font-size="8.8" font-weight="bold" text-anchor="middle" textLength="31" lengthAdjust="spacingAndGlyphs" >L22,C28</text>
<line x1="937.4" y1="513.7" x2="1155.5" y2="515.7" stroke="#111" stroke-width="1.35" />
<path d="M1161.5,515.7 L1153.9,513.3000000000001 L1153.9,518.1 Z" fill="#111"/>
<line x1="617" y1="577.6" x2="1154.3" y2="584.5" stroke="#111" stroke-width="1.35" />
<path d="M1160.4,584.6 L1152.8000000000002,582.2 L1152.8000000000002,587.0 Z" fill="#111"/>
<polyline points="757.2,156.7 753.5,614.2 867.6,616 866.8,707 843.5,707" fill="none" stroke="#111" stroke-width="1.35" stroke-linejoin="miter" />
<rect x="1165.6" y="87" width="14.800000000000182" height="103.30000000000001" fill="#fff"/>
<line x1="1165.6" y1="98.2" x2="1165.6" y2="155.3" stroke="#111" stroke-width="1.15" stroke-dasharray="4 2"/>
<line x1="1177.3" y1="98.2" x2="1177.3" y2="155.3" stroke="#111" stroke-width="1.15" stroke-dasharray="4 2"/>
<line x1="1180.4" y1="98.2" x2="1180.4" y2="155.3" stroke="#111" stroke-width="1.15" stroke-dasharray="4 2"/>
<line x1="1165.6" y1="167.5" x2="1165.6" y2="178" stroke="#111" stroke-width="1.15" stroke-dasharray="4 2"/>
<line x1="1177.3" y1="167.5" x2="1177.3" y2="178" stroke="#111" stroke-width="1.15" stroke-dasharray="4 2"/>
<line x1="1180.4" y1="167.5" x2="1180.4" y2="178" stroke="#111" stroke-width="1.15" stroke-dasharray="4 2"/>
<rect x="1177.3" y="87" width="3.1" height="11.2" fill="#aaa"/>
<line x1="1180.4" y1="87" x2="1180.4" y2="98.2" stroke="#111" stroke-width="1.1" />
<rect x="1165.6" y="87" width="11.7" height="11.2" fill="#fff" stroke="#111" stroke-width="1.1" />
<text x="1171.45" y="94.9" font-size="6.4" font-weight="bold" text-anchor="middle" >2</text>
<rect x="1177.3" y="155.3" width="3.1" height="12.2" fill="#444"/>
<line x1="1180.4" y1="155.3" x2="1180.4" y2="167.5" stroke="#111" stroke-width="1.1" />
<rect x="1165.6" y="155.3" width="11.7" height="12.2" fill="#fff" stroke="#111" stroke-width="1.1" />
<text x="1171.45" y="163.7" font-size="6.4" font-weight="bold" text-anchor="middle" >3</text>
<rect x="1177.3" y="178" width="3.1" height="12.3" fill="#aaa"/>
<line x1="1180.4" y1="178" x2="1180.4" y2="190.3" stroke="#111" stroke-width="1.1" />
<rect x="1165.6" y="178" width="11.7" height="12.3" fill="#fff" stroke="#111" stroke-width="1.1" />
<text x="1171.45" y="186.45" font-size="6.4" font-weight="bold" text-anchor="middle" >4</text>
<line x1="1165.6" y1="87" x2="1180.4" y2="87" stroke="#111" stroke-width="1.1" />
<line x1="1165.6" y1="190.3" x2="1180.4" y2="190.3" stroke="#111" stroke-width="1.1" />
<rect x="1163.6" y="293.5" width="14.0" height="79.10000000000002" fill="#fff"/>
<line x1="1163.6" y1="304.6" x2="1163.6" y2="362" stroke="#111" stroke-width="1.15" stroke-dasharray="4 2"/>
<line x1="1174.4" y1="304.6" x2="1174.4" y2="362" stroke="#111" stroke-width="1.15" stroke-dasharray="4 2"/>
<line x1="1177.6" y1="304.6" x2="1177.6" y2="362" stroke="#111" stroke-width="1.15" stroke-dasharray="4 2"/>
<rect x="1174.4" y="293.5" width="3.2" height="11.1" fill="#aaa"/>
<line x1="1177.6" y1="293.5" x2="1177.6" y2="304.6" stroke="#111" stroke-width="1.1" />
<rect x="1163.6" y="293.5" width="10.8" height="11.1" fill="#fff" stroke="#111" stroke-width="1.1" />
<text x="1169.0" y="301.35" font-size="6.4" font-weight="bold" text-anchor="middle" >2</text>
<rect x="1174.4" y="362" width="3.2" height="10.6" fill="#aaa"/>
<line x1="1177.6" y1="362" x2="1177.6" y2="372.6" stroke="#111" stroke-width="1.1" />
<rect x="1163.6" y="362" width="10.8" height="10.6" fill="#fff" stroke="#111" stroke-width="1.1" />
<text x="1169.0" y="369.6" font-size="6.4" font-weight="bold" text-anchor="middle" >6</text>
<line x1="1163.6" y1="293.5" x2="1177.6" y2="293.5" stroke="#111" stroke-width="1.1" />
<line x1="1163.6" y1="372.6" x2="1177.6" y2="372.6" stroke="#111" stroke-width="1.1" />
<rect x="1162.7" y="408.2" width="13.700000000000045" height="10.600000000000023" fill="#fff"/>
<rect x="1173.3" y="408.2" width="3.1" height="10.6" fill="#aaa"/>
<line x1="1176.4" y1="408.2" x2="1176.4" y2="418.8" stroke="#111" stroke-width="1.1" />
<rect x="1162.7" y="408.2" width="10.6" height="10.6" fill="#fff" stroke="#111" stroke-width="1.1" />
<text x="1168.0" y="415.8" font-size="6.4" font-weight="bold" text-anchor="middle" >8</text>
<line x1="1162.7" y1="408.2" x2="1176.4" y2="408.2" stroke="#111" stroke-width="1.1" />
<line x1="1162.7" y1="418.8" x2="1176.4" y2="418.8" stroke="#111" stroke-width="1.1" />
<rect x="1161.2" y="511.3" width="13.799999999999955" height="78.99999999999994" fill="#fff"/>
<line x1="1161.2" y1="521.5" x2="1161.2" y2="580" stroke="#111" stroke-width="1.15" stroke-dasharray="4 2"/>
<line x1="1172" y1="521.5" x2="1172" y2="580" stroke="#111" stroke-width="1.15" stroke-dasharray="4 2"/>
<line x1="1175" y1="521.5" x2="1175" y2="580" stroke="#111" stroke-width="1.15" stroke-dasharray="4 2"/>
<rect x="1172" y="511.3" width="3" height="10.2" fill="#aaa"/>
<line x1="1175" y1="511.3" x2="1175" y2="521.5" stroke="#111" stroke-width="1.1" />
<rect x="1161.2" y="511.3" width="10.8" height="10.2" fill="#fff" stroke="#111" stroke-width="1.1" />
<text x="1166.6" y="518.7" font-size="6.4" font-weight="bold" text-anchor="middle" >3</text>
<rect x="1172" y="580" width="3" height="10.3" fill="#aaa"/>
<line x1="1175" y1="580" x2="1175" y2="590.3" stroke="#111" stroke-width="1.1" />
<rect x="1161.2" y="580" width="10.8" height="10.3" fill="#fff" stroke="#111" stroke-width="1.1" />
<text x="1166.6" y="587.45" font-size="6.4" font-weight="bold" text-anchor="middle" >4</text>
<line x1="1161.2" y1="511.3" x2="1175" y2="511.3" stroke="#111" stroke-width="1.1" />
<line x1="1161.2" y1="590.3" x2="1175" y2="590.3" stroke="#111" stroke-width="1.1" />
<text x="1172" y="85" font-size="8.4" font-weight="bold" text-anchor="middle" textLength="15" lengthAdjust="spacingAndGlyphs" >CN2</text>
<text x="1169.6" y="291.4" font-size="8.4" font-weight="bold" text-anchor="middle" textLength="13.2" lengthAdjust="spacingAndGlyphs" >CN1</text>
<text x="1168.1" y="405.5" font-size="8.4" font-weight="bold" text-anchor="middle" textLength="14.4" lengthAdjust="spacingAndGlyphs" >CN2</text>
<text x="1167.3" y="508.7" font-size="8.4" font-weight="bold" text-anchor="middle" textLength="13.8" lengthAdjust="spacingAndGlyphs" >CN1</text>
<text x="1185" y="95.8" font-size="8.6" font-weight="bold" text-anchor="start" textLength="14.2" lengthAdjust="spacingAndGlyphs" >45V</text>
<text x="1183.8" y="165.2" font-size="8.6" font-weight="bold" text-anchor="start" textLength="41" lengthAdjust="spacingAndGlyphs" >UNSW 12V</text>
<text x="1183.8" y="188" font-size="8.6" font-weight="bold" text-anchor="start" textLength="43.4" lengthAdjust="spacingAndGlyphs" >MOTOR 12V</text>
<text x="1182.6" y="302.6" font-size="8.6" font-weight="bold" text-anchor="start" textLength="22.3" lengthAdjust="spacingAndGlyphs" >−28V</text>
<text x="1182.6" y="371.4" font-size="8.6" font-weight="bold" text-anchor="start" textLength="43" lengthAdjust="spacingAndGlyphs" >−28V (IND)</text>
<text x="1181.5" y="416.7" font-size="8.6" font-weight="bold" text-anchor="start" textLength="10" lengthAdjust="spacingAndGlyphs" >7V</text>
<text x="1179.8" y="519.8" font-size="8.6" font-weight="bold" text-anchor="start" textLength="29.8" lengthAdjust="spacingAndGlyphs" >AC 4.6V</text>
<text x="1179.8" y="588.6" font-size="8.6" font-weight="bold" text-anchor="start" textLength="29.8" lengthAdjust="spacingAndGlyphs" >AC 4.6V</text>
<path d="M1234.5,86.6 C1239.5,86.6 1241.75,87.6 1241.75,93.6 L1241.75,133 C1241.75,137 1245,139 1247,139 C1245,139 1241.75,141 1241.75,145 L1241.75,184.6 C1241.75,190.6 1239.5,191.6 1234.5,191.6" fill="none" stroke="#111" stroke-width="1.1"/>
<path d="M1232.2,292.8 C1237.2,292.8 1239.508,293.8 1239.508,299.8 L1239.508,327.2 C1239.508,331.2 1242.8,333.2 1244.8,333.2 C1242.8,333.2 1239.508,335.2 1239.508,339.2 L1239.508,366.5 C1239.508,372.5 1237.2,373.5 1232.2,373.5" fill="none" stroke="#111" stroke-width="1.1"/>
<path d="M1229.6,510.4 C1234.6,510.4 1237.0240000000001,511.4 1237.0240000000001,517.4 L1237.0240000000001,545.3 C1237.0240000000001,549.3 1240.4,551.3 1242.4,551.3 C1240.4,551.3 1237.0240000000001,553.3 1237.0240000000001,557.3 L1237.0240000000001,585.4 C1237.0240000000001,591.4 1234.6,592.4 1229.6,592.4" fill="none" stroke="#111" stroke-width="1.1"/>
<text x="1195.6" y="48.8" font-size="10.5" font-weight="bold" text-anchor="start" textLength="11.0" lengthAdjust="spacingAndGlyphs" >To</text>
<rect x="1208.4" y="38.2" width="9.5" height="11.3" fill="none" stroke="#111" stroke-width="1.4" />
<text x="1213.15" y="48.0" font-size="10.5" font-weight="bold" text-anchor="middle" textLength="6" lengthAdjust="spacingAndGlyphs" >0</text>
<rect x="1222.2" y="38.2" width="10.1" height="11.3" fill="none" stroke="#111" stroke-width="1.4" />
<text x="1227.25" y="48.0" font-size="10.5" font-weight="bold" text-anchor="middle" textLength="6" lengthAdjust="spacingAndGlyphs" >3</text>
<text x="1195.1999999999998" y="60.099999999999994" font-size="10.5" font-weight="bold" text-anchor="start" textLength="52.8" lengthAdjust="spacingAndGlyphs" >REG (MAIN)</text>
<text x="1195.1999999999998" y="70.6" font-size="10.5" font-weight="bold" text-anchor="start" textLength="29" lengthAdjust="spacingAndGlyphs" >CN801</text>
<text x="1193.4" y="255.3" font-size="10.5" font-weight="bold" text-anchor="start" textLength="11.0" lengthAdjust="spacingAndGlyphs" >To</text>
<rect x="1206.2" y="244.4" width="9.2" height="11.4" fill="none" stroke="#111" stroke-width="1.4" />
<text x="1210.8" y="254.3" font-size="10.5" font-weight="bold" text-anchor="middle" textLength="6" lengthAdjust="spacingAndGlyphs" >2</text>
<rect x="1220.2" y="244.4" width="9.4" height="11.4" fill="none" stroke="#111" stroke-width="1.4" />
<text x="1224.9" y="254.3" font-size="10.5" font-weight="bold" text-anchor="middle" textLength="6" lengthAdjust="spacingAndGlyphs" >8</text>
<text x="1193.0" y="266.6" font-size="10.5" font-weight="bold" text-anchor="start" textLength="78.5" lengthAdjust="spacingAndGlyphs" >SWITCH/DISPLAY</text>
<text x="1193.0" y="277.1" font-size="10.5" font-weight="bold" text-anchor="start" textLength="17.6" lengthAdjust="spacingAndGlyphs" >CN5</text>
<text x="1203.9" y="395.3" font-size="10.5" font-weight="bold" text-anchor="start" textLength="10.5" lengthAdjust="spacingAndGlyphs" >To</text>
<rect x="1216.2" y="384.6" width="9.2" height="11.0" fill="none" stroke="#111" stroke-width="1.4" />
<text x="1220.8" y="394.1" font-size="10.5" font-weight="bold" text-anchor="middle" textLength="6" lengthAdjust="spacingAndGlyphs" >0</text>
<rect x="1229.9" y="384.6" width="9.6" height="11.0" fill="none" stroke="#111" stroke-width="1.4" />
<text x="1234.7" y="394.1" font-size="10.5" font-weight="bold" text-anchor="middle" textLength="6" lengthAdjust="spacingAndGlyphs" >3</text>
<text x="1203.5" y="406.6" font-size="10.5" font-weight="bold" text-anchor="start" textLength="51.6" lengthAdjust="spacingAndGlyphs" >REG (MAIN)</text>
<text x="1203.5" y="417.1" font-size="10.5" font-weight="bold" text-anchor="start" textLength="27" lengthAdjust="spacingAndGlyphs" >CN801</text>
<text x="1190.9" y="472.8" font-size="10.5" font-weight="bold" text-anchor="start" textLength="10.8" lengthAdjust="spacingAndGlyphs" >To</text>
<rect x="1203.5" y="461.6" width="9.3" height="11.6" fill="none" stroke="#111" stroke-width="1.4" />
<text x="1208.15" y="471.7" font-size="10.5" font-weight="bold" text-anchor="middle" textLength="6" lengthAdjust="spacingAndGlyphs" >2</text>
<rect x="1217.5" y="461.6" width="9.5" height="11.6" fill="none" stroke="#111" stroke-width="1.4" />
<text x="1222.25" y="471.7" font-size="10.5" font-weight="bold" text-anchor="middle" textLength="6" lengthAdjust="spacingAndGlyphs" >8</text>
<text x="1190.5" y="484.1" font-size="10.5" font-weight="bold" text-anchor="start" textLength="78.3" lengthAdjust="spacingAndGlyphs" >SWITCH/DISPLAY</text>
<text x="1190.5" y="494.6" font-size="10.5" font-weight="bold" text-anchor="start" textLength="18" lengthAdjust="spacingAndGlyphs" >CN5</text>
<polyline points="464.2,747.8 464,747.8 530.8,749.1" fill="none" stroke="#111" stroke-width="1.35" stroke-linejoin="miter" />
<polyline points="499.8,702.3 530.9,703" fill="none" stroke="#111" stroke-width="1.35" stroke-linejoin="miter" />
<rect x="533.2" y="692.2" width="91.5" height="68.5" fill="none" stroke="#111" stroke-width="1.2" stroke-dasharray="4.2 2.2"/>
<text x="579.3" y="689.2" font-size="8.6" font-weight="bold" text-anchor="middle" textLength="19" lengthAdjust="spacingAndGlyphs" >PHS1</text>
<polyline points="535.6,703 556.4,703 556.4,713.4" fill="none" stroke="#111" stroke-width="1.35" stroke-linejoin="miter" />
<polyline points="535.3,749 556.4,749 556.4,739" fill="none" stroke="#111" stroke-width="1.35" stroke-linejoin="miter" />
<circle cx="560.7" cy="726.2" r="12.5" fill="none" stroke="#111" stroke-width="2.1"/>
<line x1="567.7" y1="719.2" x2="567.7" y2="733" stroke="#111" stroke-width="1.5" />
<line x1="556.6" y1="714.6" x2="567.7" y2="720.8" stroke="#111" stroke-width="1.2" />
<line x1="567.7" y1="730.6" x2="557.2" y2="737.6" stroke="#111" stroke-width="1.2" />
<path d="M556.8,737.8 L559.4,733.4 L561.6,736.6 Z" fill="#111"/>
<line x1="584.8" y1="718" x2="580.8" y2="721.4" stroke="#111" stroke-width="1.3" />
<path d="M578.8,723.4 L579.9,719.2 L582.6,722.2 Z" fill="#111"/>
<line x1="588.6" y1="721.6" x2="584.6" y2="725" stroke="#111" stroke-width="1.3" />
<path d="M582.6,727 L583.7,722.8 L586.4,725.8 Z" fill="#111"/>
<polyline points="622.2,704.2 602,703.8 602,749.6 621.9,750.2" fill="none" stroke="#111" stroke-width="1.35" stroke-linejoin="miter" />
<path d="M597.8,722.2 L606.2,722.2 L602,729 Z" fill="#111"/>
<line x1="597.8" y1="729.6" x2="606.2" y2="729.6" stroke="#111" stroke-width="1.5" />
<polyline points="626.5,750.3 641,750.6 641,761.8" fill="none" stroke="#111" stroke-width="1.35" stroke-linejoin="miter" />
<line x1="635.5" y1="762" x2="646.5" y2="762" stroke="#111" stroke-width="1.2" />
<line x1="637.0" y1="762" x2="634.8" y2="765.2" stroke="#111" stroke-width="0.9" />
<line x1="639.8" y1="762" x2="637.5999999999999" y2="765.2" stroke="#111" stroke-width="0.9" />
<line x1="642.6" y1="762" x2="640.4" y2="765.2" stroke="#111" stroke-width="0.9" />
<line x1="645.4" y1="762" x2="643.1999999999999" y2="765.2" stroke="#111" stroke-width="0.9" />
<circle cx="533.3" cy="703" r="2.2" fill="#fff" stroke="#111" stroke-width="1.1"/>
<circle cx="532.9" cy="749.1" r="2.2" fill="#fff" stroke="#111" stroke-width="1.1"/>
<circle cx="624.5" cy="704.3" r="2.2" fill="#fff" stroke="#111" stroke-width="1.1"/>
<circle cx="624.2" cy="750.2" r="2.2" fill="#fff" stroke="#111" stroke-width="1.1"/>
<line x1="626.7" y1="704.4" x2="658.2" y2="704.8" stroke="#111" stroke-width="1.35" />
<rect x="658.2" y="681.4" width="58.1" height="45.8" fill="#fff" stroke="#111" stroke-width="1.4" />
<text x="687.25" y="699.0" font-size="9" font-weight="bold" text-anchor="middle" textLength="34.5" lengthAdjust="spacingAndGlyphs" >SWD 12V</text>
<text x="687.25" y="708.1" font-size="9" font-weight="bold" text-anchor="middle" textLength="34" lengthAdjust="spacingAndGlyphs" >CONTROL</text>
<text x="687.25" y="717.2" font-size="9" font-weight="bold" text-anchor="middle" textLength="28" lengthAdjust="spacingAndGlyphs" >CIRCUIT</text>
<text x="687.4" y="677.2" font-size="10.6" font-weight="bold" text-anchor="middle" textLength="37" lengthAdjust="spacingAndGlyphs" >Q20,Q21</text>
<text x="687.4" y="738.6" font-size="8.4" font-weight="bold" text-anchor="middle" textLength="51" lengthAdjust="spacingAndGlyphs" >D24,R25,R27</text>
<line x1="722" y1="705.6" x2="797.7" y2="705.8" stroke="#111" stroke-width="1.35" />
<path d="M716.8,705.6 L723.4,703.4 L723.4,707.8000000000001 Z" fill="#111"/>
<circle cx="751.3" cy="705.7" r="2.0" fill="#111"/>
<text x="751.8" y="663.4" font-size="8.6" font-weight="bold" text-anchor="middle" textLength="40.4" lengthAdjust="spacingAndGlyphs" >UNSW 12V</text>
<circle cx="751.2" cy="671.4" r="2.1" fill="#fff" stroke="#111" stroke-width="1.1"/>
<line x1="751.2" y1="673.5" x2="751.2" y2="679.7" stroke="#111" stroke-width="1.35" />
<polyline points="751.2,679.7 753.7,681.01 748.7,683.62 753.7,686.24 748.7,688.85 753.7,691.46 748.7,694.08 751.2,698" fill="none" stroke="#111" stroke-width="1.1" stroke-linejoin="miter" />
<line x1="751.2" y1="698" x2="751.2" y2="713" stroke="#111" stroke-width="1.35" />
<polyline points="751.2,713 753.7,714.29 748.7,716.86 753.7,719.43 748.7,722.0 753.7,724.57 748.7,727.14 751.2,731" fill="none" stroke="#111" stroke-width="1.1" stroke-linejoin="miter" />
<line x1="751.2" y1="731" x2="751.2" y2="741" stroke="#111" stroke-width="1.35" />
<line x1="745.7" y1="741.2" x2="756.7" y2="741.2" stroke="#111" stroke-width="1.2" />
<line x1="747.2" y1="741.2" x2="745.0" y2="744.4000000000001" stroke="#111" stroke-width="0.9" />
<line x1="750.0" y1="741.2" x2="747.8" y2="744.4000000000001" stroke="#111" stroke-width="0.9" />
<line x1="752.8000000000001" y1="741.2" x2="750.6" y2="744.4000000000001" stroke="#111" stroke-width="0.9" />
<line x1="755.6" y1="741.2" x2="753.4" y2="744.4000000000001" stroke="#111" stroke-width="0.9" />
<text x="760" y="692.6" font-size="8.6" font-weight="bold" text-anchor="start" textLength="14" lengthAdjust="spacingAndGlyphs" >R23</text>
<text x="760" y="727.5" font-size="8.6" font-weight="bold" text-anchor="start" textLength="14" lengthAdjust="spacingAndGlyphs" >R24</text>
<rect x="797.7" y="695.3" width="45.8" height="22.7" fill="#fff" stroke="#111" stroke-width="1.4" />
<text x="820.6" y="705.4" font-size="9" font-weight="bold" text-anchor="middle" textLength="32.5" lengthAdjust="spacingAndGlyphs" >DIFFER-</text>
<text x="820.6" y="714.4" font-size="9" font-weight="bold" text-anchor="middle" textLength="26.5" lengthAdjust="spacingAndGlyphs" >ENTIAL</text>
<text x="820.6" y="691.3" font-size="8.6" font-weight="bold" text-anchor="middle" textLength="33" lengthAdjust="spacingAndGlyphs" >R22,C29</text>
<line x1="107.3" y1="601.5" x2="107" y2="658.5" stroke="#111" stroke-width="1.35" />
<rect x="103" y="601.2" width="11.6" height="14.4" fill="#fff" stroke="#111" stroke-width="1.2" />
<rect x="103.6" y="612.4" width="10.4" height="2.6" fill="#777"/>
<line x1="107.6" y1="607.4000000000001" x2="111.4" y2="607.4000000000001" stroke="#111" stroke-width="1.2" />
<rect x="102.8" y="645" width="11.6" height="14.2" fill="#fff" stroke="#111" stroke-width="1.2" />
<rect x="103.39999999999999" y="645.6" width="10.4" height="2.6" fill="#777"/>
<line x1="107.39999999999999" y1="653.1" x2="111.2" y2="653.1" stroke="#111" stroke-width="1.2" />
<text x="0" y="0" font-size="9.2" font-weight="bold" text-anchor="middle" textLength="15" lengthAdjust="spacingAndGlyphs" transform="translate(100.4,608.2) rotate(-90)">CN2</text>
<text x="0" y="0" font-size="9.2" font-weight="bold" text-anchor="middle" textLength="22.5" lengthAdjust="spacingAndGlyphs" transform="translate(100.4,652.2) rotate(-90)">CN801</text>
<line x1="107" y1="658.4" x2="106.9" y2="721" stroke="#111" stroke-width="1.35" />
<circle cx="106.9" cy="698.4" r="2.0" fill="#111"/>
<line x1="106.9" y1="698.4" x2="168.4" y2="698.5" stroke="#111" stroke-width="1.35" />
<circle cx="170.6" cy="698.5" r="2.1" fill="#fff" stroke="#111" stroke-width="1.1"/>
<path d="M144.8,698.5 L152.4,694.6 L152.4,702.4 Z" fill="#111"/>
<line x1="144.8" y1="694.4" x2="144.8" y2="702.6" stroke="#111" stroke-width="1.5" />
<text x="149.4" y="690.6" font-size="8.4" font-weight="bold" text-anchor="middle" textLength="19" lengthAdjust="spacingAndGlyphs" >D803</text>
<text x="178.3" y="702.6" font-size="8.4" font-weight="bold" text-anchor="start" textLength="31" lengthAdjust="spacingAndGlyphs" >SWD 12V</text>
<text x="79.2" y="717.6" font-size="10.2" font-weight="normal" text-anchor="middle" textLength="22.5" lengthAdjust="spacingAndGlyphs" >Q805</text>
<text x="113.8" y="718.2" font-size="8.4" font-weight="bold" text-anchor="middle" >C</text>
<rect x="89.3" y="721" width="35.7" height="23.2" fill="#fff" stroke="#111" stroke-width="1.4" />
<text x="107.1" y="736.6" font-size="9" font-weight="bold" text-anchor="middle" textLength="10.5" lengthAdjust="spacingAndGlyphs" >ES</text>
<text x="130.8" y="726.4" font-size="8.4" font-weight="bold" text-anchor="middle" >B</text>
<circle cx="127.3" cy="732.6" r="1.9" fill="#fff" stroke="#111" stroke-width="1.1"/>
<line x1="129.2" y1="732.6" x2="168.4" y2="732.7" stroke="#111" stroke-width="1.35" />
<path d="M130.8,732.6 L137.2,730.1 L137.2,735.1 Z" fill="#111"/>
<circle cx="170.6" cy="732.7" r="2.1" fill="#fff" stroke="#111" stroke-width="1.1"/>
<text x="178.3" y="736.3" font-size="8.4" font-weight="bold" text-anchor="start" textLength="40.5" lengthAdjust="spacingAndGlyphs" >AC ONLINE</text>
<text x="179.8" y="745.8" font-size="8.4" font-weight="bold" text-anchor="start" textLength="29" lengthAdjust="spacingAndGlyphs" >(OFF:L)</text>
<text x="113.8" y="755" font-size="8.4" font-weight="bold" text-anchor="middle" >E</text>
<line x1="106.9" y1="744.2" x2="106.9" y2="764.6" stroke="#111" stroke-width="1.35" />
<circle cx="106.9" cy="766.7" r="2.1" fill="#fff" stroke="#111" stroke-width="1.1"/>
<text x="106.4" y="778" font-size="8.4" font-weight="bold" text-anchor="middle" textLength="40.4" lengthAdjust="spacingAndGlyphs" >UNSW 12V</text>
<text x="1033.2" y="815.4" font-size="37.6" font-weight="bold" textLength="280.5" lengthAdjust="spacingAndGlyphs" style="fill:#111;stroke:#111;stroke-width:5.6;stroke-linejoin:round">stereo-hifi.com</text>
<text x="1033.2" y="815.4" font-size="37.6" font-weight="bold" textLength="280.5" lengthAdjust="spacingAndGlyphs" style="fill:#fff;stroke:#fff;stroke-width:1.6;stroke-linejoin:round">stereo-hifi.com</text>
<line x1="1140.6" y1="31.4" x2="1143.2" y2="31.6" stroke="#111" stroke-width="1.3" />
</svg></body></html>
